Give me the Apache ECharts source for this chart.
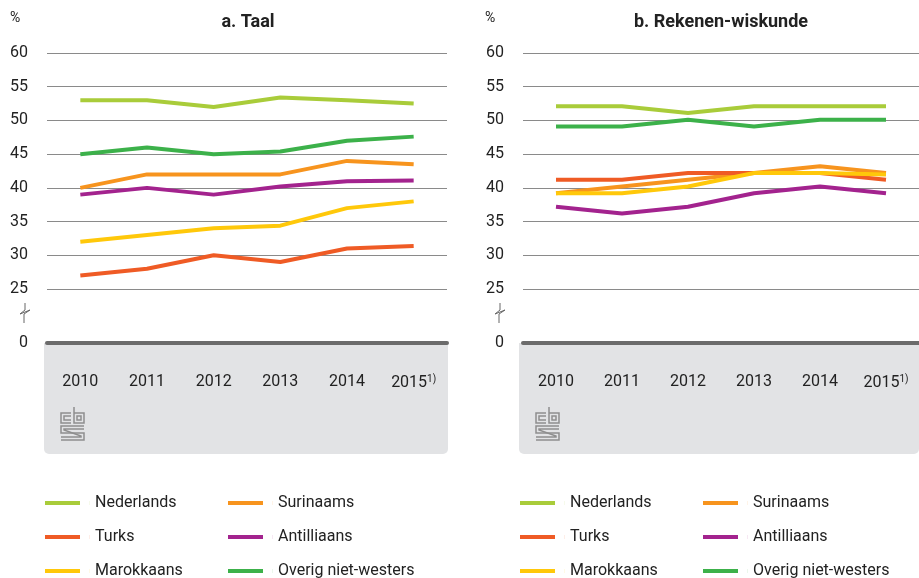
<!DOCTYPE html>
<html>
<head>
<meta charset="utf-8">
<script src="https://cdn.jsdelivr.net/npm/echarts@6/dist/echarts.min.js"></script>
<style>
  html, body { margin: 0; padding: 0; background: #fff; }
  #chart { width: 919px; height: 578px; }
</style>
</head>
<body>
<div id="chart"></div>
<script>
// years on the x axis, 2015 carries footnote 1)
var years = ['2010', '2011', '2012', '2013', '2014', '2015'];
var footnoteYear = '2015';
var footnoteMark = '1)';

var groups = ['Nederlands', 'Surinaams', 'Turks', 'Antilliaans', 'Marokkaans', 'Overig niet-westers'];
var groupColors = ['#a9cc3a', '#f7941e', '#ef5b25', '#a3238e', '#ffc80a', '#3cb14a'];

// a. Taal (%)
var taalNederlands = [53, 53, 52, 53.4, 53, 52.5];
var taalSurinaams = [40, 42, 42, 42, 44, 43.5];
var taalTurks = [27, 28, 30, 29, 31, 31.4];
var taalAntilliaans = [39, 40, 39, 40.2, 41, 41.1];
var taalMarokkaans = [32, 33, 34, 34.4, 37, 38];
var taalOverig = [45, 46, 45, 45.4, 47, 47.6];

// b. Rekenen-wiskunde (%)
var rekenNederlands = [52.1, 52.1, 51.1, 52.1, 52.1, 52.1];
var rekenSurinaams = [39.2, 40.2, 41.2, 42.2, 43.2, 42.2];
var rekenTurks = [41.2, 41.2, 42.2, 42.2, 42.2, 41.2];
var rekenAntilliaans = [37.2, 36.2, 37.2, 39.2, 40.2, 39.2];
var rekenMarokkaans = [39.2, 39.2, 40.2, 42.2, 42.2, 42];
var rekenOverig = [49.1, 49.1, 50.1, 49.1, 50.1, 50.1];

var taalData = [taalNederlands, taalSurinaams, taalTurks, taalAntilliaans, taalMarokkaans, taalOverig];
var rekenData = [rekenNederlands, rekenSurinaams, rekenTurks, rekenAntilliaans, rekenMarokkaans, rekenOverig];

// y axis: broken axis, 0 at the bottom, then 25..60
var yMin = 17, yMax = 60;
var font = 'Roboto, "Noto Sans", sans-serif';

var splitColors = [];
for (var v = yMin; v <= yMax; v++) {
    splitColors.push(v >= 25 && v % 5 === 0 ? '#8a8a8a' : 'rgba(0,0,0,0)');
}

function yLabel(v) {
    if (v === yMin) return '0';
    if (v >= 25 && v % 5 === 0) return String(v);
    return '';
}

function xLabel(v) {
    return v === footnoteYear ? v + '{sup|' + footnoteMark + '}' : v;
}

function makeX(gridIndex) {
    return {
        type: 'category',
        gridIndex: gridIndex,
        data: years,
        axisLine: { lineStyle: { color: '#6b6b6b', width: 4 } },
        axisTick: { alignWithLabel: true, interval: 0, length: 11, lineStyle: { color: '#6b6b6b', width: 1 } },
        axisLabel: {
            interval: 0, margin: 31, color: '#222', fontSize: 16, fontFamily: font,
            formatter: xLabel,
            rich: { sup: { fontSize: 10, fontFamily: font, color: '#222', padding: [0, 0, 8, 0] } }
        }
    };
}

function makeY(gridIndex) {
    return {
        type: 'value',
        gridIndex: gridIndex,
        min: yMin, max: yMax, interval: 1,
        axisLine: { show: false },
        axisTick: { show: false },
        axisLabel: { margin: 19, color: '#222', fontSize: 16, fontFamily: font, formatter: yLabel },
        splitLine: { lineStyle: { color: splitColors, width: 1 } }
    };
}

var series = [];
function addSeries(idx, dataSet) {
    for (var i = 0; i < groups.length; i++) {
        series.push({
            name: groups[i],
            type: 'line',
            xAxisIndex: idx,
            yAxisIndex: idx,
            data: dataSet[i],
            symbol: 'none',
            color: groupColors[i],
            lineStyle: { width: 4, color: groupColors[i] },
            z: 3
        });
    }
}
addSeries(0, taalData);
addSeries(1, rekenData);

var legendIcon = 'path://M0,0H35V4H0Z M44.9,0H45V4H44.9Z';
function makeLegend(left, names) {
    return {
        orient: 'vertical',
        left: left, top: 495, height: 100, padding: 0,
        itemWidth: 45, itemHeight: 4, itemGap: 18,
        icon: legendIcon,
        selectedMode: false,
        textStyle: { fontSize: 16, fontFamily: font, color: '#222', lineHeight: 16 },
        data: names
    };
}

function panel(x, w) {
    return {
        type: 'rect', z: -10,
        shape: { x: x, y: 343, width: w, height: 111, r: [0, 0, 5, 5] },
        style: { fill: '#e2e3e5' }
    };
}

function breakMark(x) {
    return {
        type: 'polyline', z: 5,
        shape: { points: [[x + 1, 303], [x + 1, 310], [x - 4, 314], [x + 6, 310], [x, 314], [x, 323]] },
        style: { stroke: '#666', lineWidth: 1, fill: null }
    };
}

function logo(x, y) {
    var s = { stroke: '#8e8e8e', lineWidth: 1.5, fill: null };
    return {
        type: 'group', x: x, y: y, z: 5,
        children: [
            { type: 'polyline', shape: { points: [[11, 6], [1, 6], [1, 16], [11, 16]] }, style: s },
            { type: 'polyline', shape: { points: [[11, 9], [4, 9], [4, 13], [11, 13]] }, style: s },
            { type: 'polyline', shape: { points: [[14, 0], [14, 16], [24, 16], [24, 6], [14, 6]] }, style: s },
            { type: 'rect', shape: { x: 17, y: 9, width: 4, height: 4 }, style: s },
            { type: 'polyline', shape: { points: [[24, 19], [1, 19], [1, 26], [24, 26], [24, 33], [1, 33]] }, style: s },
            { type: 'polyline', shape: { points: [[24, 22], [4, 22], [4, 23], [21, 29], [21, 30], [1, 30]] }, style: s }
        ]
    };
}

var chart = echarts.init(document.getElementById('chart'));
var option = {
    backgroundColor: '#fff',
    animation: false,
    title: [
        { text: 'a. Taal', left: 243, top: 8, textAlign: 'center',
          textStyle: { fontSize: 18, fontWeight: 'bold', color: '#222', fontFamily: font } },
        { text: 'b. Rekenen-wiskunde', left: 716, top: 8, textAlign: 'center',
          textStyle: { fontSize: 18, fontWeight: 'bold', color: '#222', fontFamily: font } }
    ],
    grid: [
        { left: 47, top: 53, width: 400, height: 290 },
        { left: 523, top: 53, width: 396, height: 290 }
    ],
    xAxis: [makeX(0), makeX(1)],
    yAxis: [makeY(0), makeY(1)],
    legend: [
        makeLegend(45, ['Nederlands', 'Turks', 'Marokkaans']),
        makeLegend(228, ['Surinaams', 'Antilliaans', 'Overig niet-westers']),
        makeLegend(520, ['Nederlands', 'Turks', 'Marokkaans']),
        makeLegend(703, ['Surinaams', 'Antilliaans', 'Overig niet-westers'])
    ],
    graphic: [
        panel(44, 404),
        panel(519, 400),
        breakMark(24),
        breakMark(499),
        logo(60, 407),
        logo(535, 407),
        { type: 'text', left: 10, top: 11, style: { text: '%', fontSize: 14, fill: '#222', fontFamily: font } },
        { type: 'text', left: 485, top: 11, style: { text: '%', fontSize: 14, fill: '#222', fontFamily: font } }
    ],
    series: series
};
chart.setOption(option);
</script>
</body>
</html>
